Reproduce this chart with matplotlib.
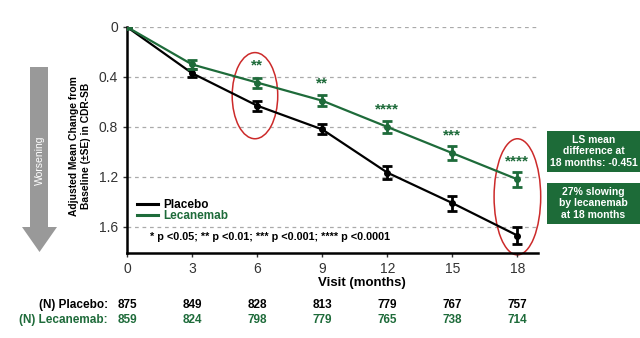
import matplotlib.pyplot as plt
from matplotlib.patches import Ellipse, Polygon, Rectangle
from matplotlib.lines import Line2D
import matplotlib.transforms as mtransforms

plt.rcParams['font.family'] = ['Liberation Sans', 'DejaVu Sans']

# Visit months and adjusted mean change (with SE) per arm
visits = [0, 3, 6, 9, 12, 15, 18]
placebo = [0.0, 0.37, 0.63, 0.82, 1.166, 1.41, 1.67]
placebo_se = [0.0, 0.03, 0.04, 0.04, 0.05, 0.06, 0.065]
lecanemab = [0.0, 0.30, 0.445, 0.59, 0.80, 1.01, 1.22]
lecanemab_se = [0.0, 0.035, 0.04, 0.045, 0.05, 0.055, 0.06]

# Significance marks above the lecanemab points
star_visits = [6, 9, 12, 15, 18]
star_labels = ['**', '**', '****', '***', '****']

# Patients at each visit
n_placebo = [875, 849, 828, 813, 779, 767, 757]
n_lecanemab = [859, 824, 798, 779, 765, 738, 714]

yticks = [0, 0.4, 0.8, 1.2, 1.6]
ytick_labels = ['0', '0.4', '0.8', '1.2', '1.6']

GREEN = '#1e6b3a'
BOX_GREEN = '#1d6b38'
RED = '#cc2a2a'
W, H = 640, 338

fig = plt.figure(figsize=(W / 100, H / 100), dpi=100)

# pixel-space overlay for decorations outside the plot
pix = fig.add_axes([0, 0, 1, 1], zorder=0)
pix.set_xlim(0, W)
pix.set_ylim(H, 0)
pix.axis('off')

ax = fig.add_axes([127 / W, 1 - 253 / H, (538 - 127) / W, (253 - 27) / H], zorder=1)
ax.patch.set_alpha(0)

for y in yticks:
    ax.axhline(y, color='#aaaaaa', lw=0.9, ls=(0, (3, 3)), zorder=0)

ax.errorbar(visits, placebo, yerr=placebo_se, color='black', lw=1.6,
            marker='o', ms=4, elinewidth=2, capsize=3.5, capthick=2, zorder=3)
ax.errorbar(visits, lecanemab, yerr=lecanemab_se, color=GREEN, lw=1.6,
            marker='o', ms=4, elinewidth=2, capsize=3.5, capthick=2, zorder=4)

lec_at = dict(zip(visits, lecanemab))
for v, s in zip(star_visits, star_labels):
    ax.text(v, lec_at[v] - 0.14, s, color=GREEN, fontsize=11, fontweight='bold',
            ha='center', va='center')

ax.add_patch(Ellipse((5.9, 0.55), 2.1, 0.69, fill=False, ec=RED, lw=1.1, clip_on=False))
ax.add_patch(Ellipse((18.0, 1.36), 2.15, 0.93, fill=False, ec=RED, lw=1.1, clip_on=False))

ax.set_xlim(0, 18.95)
ax.set_ylim(1.81, 0)
ax.set_xticks(visits)
ax.set_yticks(yticks)
ax.set_yticklabels(ytick_labels)
ax.tick_params(labelsize=10, length=3, width=1, colors='#333333')
for side in ['top', 'right']:
    ax.spines[side].set_visible(False)
for side in ['left', 'bottom']:
    ax.spines[side].set_linewidth(1.8)

handles = [Line2D([0], [0], color='black', lw=2.2), Line2D([0], [0], color=GREEN, lw=2.2)]
leg = ax.legend(handles, ['Placebo', 'Lecanemab'], loc='upper left',
                bbox_to_anchor=(131, 193), bbox_transform=pix.transData,
                frameon=False, borderpad=0, handlelength=1.8, handletextpad=0.45,
                labelspacing=-0.05, prop={'weight': 'bold', 'size': 8.5})
leg.get_texts()[1].set_color(GREEN)

ax.text(1.05, 1.685, '* p <0.05; ** p <0.01; *** p <0.001; **** p <0.0001',
        fontsize=7.8, fontweight='bold', va='center', ha='left')

pix.text(362, 283, 'Visit (months)', fontsize=9.5, fontweight='bold', ha='center', va='center')

# N-at-risk table under the axis
blend = mtransforms.blended_transform_factory(ax.transData, pix.transData)
pix.text(108, 305, '(N) Placebo:', fontsize=8.5, fontweight='bold', ha='right', va='center')
pix.text(108, 320, '(N) Lecanemab:', fontsize=8.5, fontweight='bold', ha='right',
         va='center', color=GREEN)
for v, a, b in zip(visits, n_placebo, n_lecanemab):
    pix.text(v, 305, str(a), transform=blend, fontsize=8.5, fontweight='bold',
             ha='center', va='center')
    pix.text(v, 320, str(b), transform=blend, fontsize=8.5, fontweight='bold',
             ha='center', va='center', color=GREEN)

# y-axis label
pix.text(80, 146, 'Adjusted Mean Change from\nBaseline (\u00b1SE) in CDR-SB', rotation=90,
         fontsize=7.4, fontweight='bold', ha='center', va='center', linespacing=1.15)

# grey "Worsening" arrow
arrow = [(30, 67), (48, 67), (48, 227), (57, 227), (39.5, 252), (22, 227), (30, 227)]
pix.add_patch(Polygon(arrow, closed=True, fc='#999999', ec='none'))
pix.text(39.5, 160, 'Worsening', rotation=90, color='white', fontsize=7.5,
         ha='center', va='center')

# summary boxes
boxes = [(131, 172, 'LS mean\ndifference at\n18 months: -0.451'),
         (183, 224, '27% slowing\nby lecanemab\nat 18 months')]
for top, bottom, label in boxes:
    pix.add_patch(Rectangle((547, top), W - 547, bottom - top, fc=BOX_GREEN, ec='none'))
    pix.text((547 + W) / 2, (top + bottom) / 2, label, color='white', fontsize=7.5,
             fontweight='bold', ha='center', va='center', linespacing=1.2)

fig.savefig('out.png', dpi=100)
